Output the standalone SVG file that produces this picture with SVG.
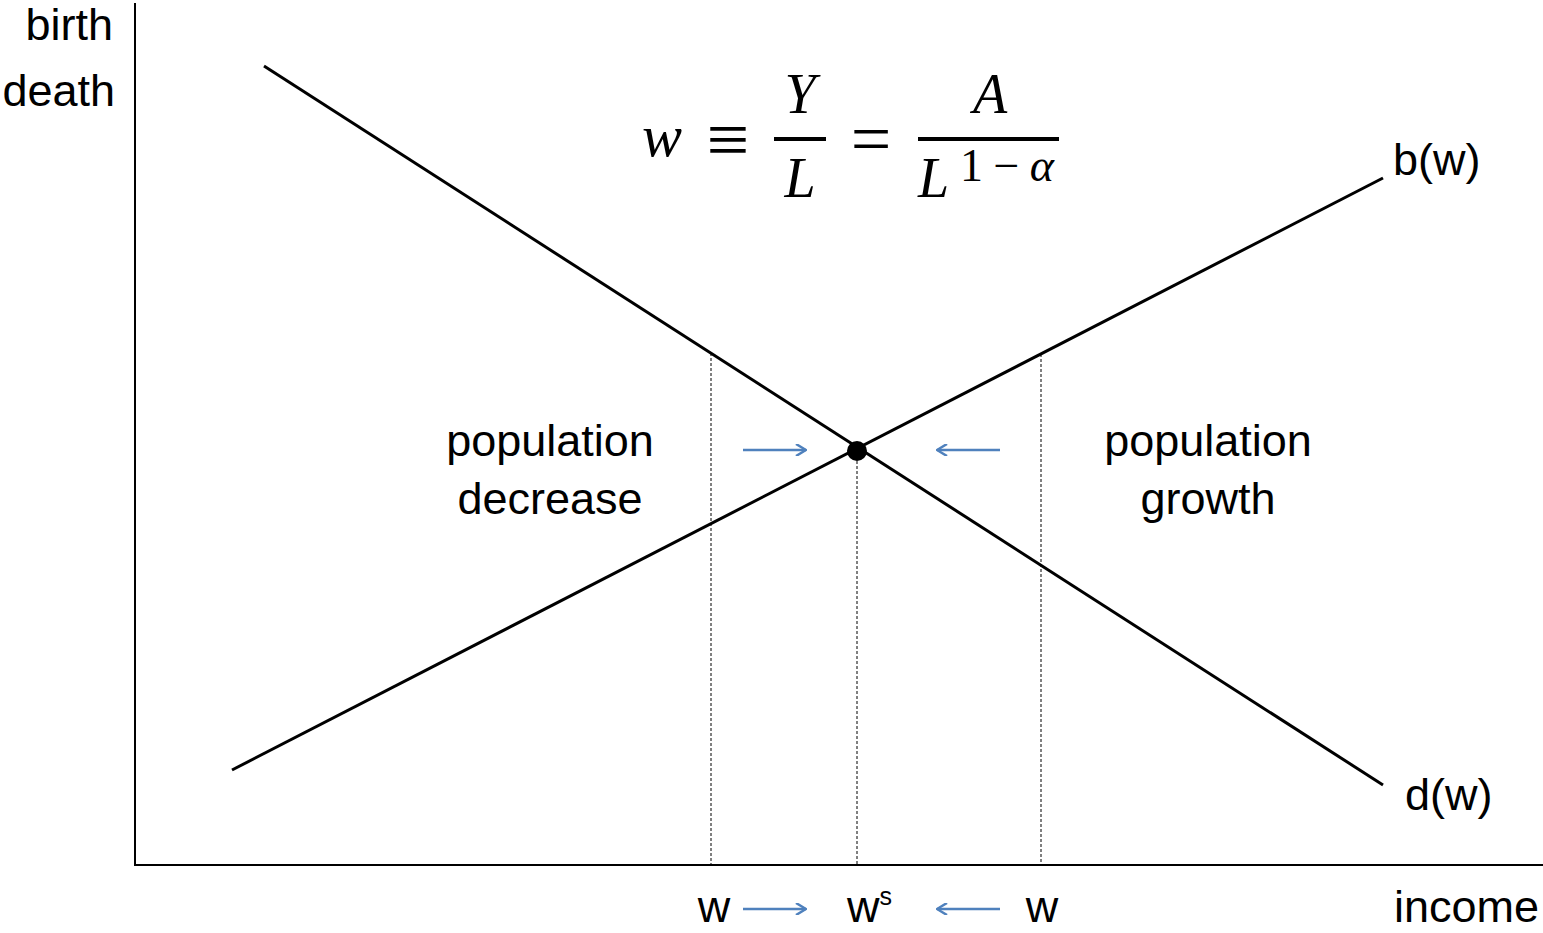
<svg xmlns="http://www.w3.org/2000/svg" width="1543" height="933" viewBox="0 0 1543 933">
<defs>
<style>
.lbl{font-family:"Liberation Sans",Arial,sans-serif;font-size:45px;fill:#000}
.math{font-family:"Liberation Serif","Times New Roman",serif;fill:#000}
.axis{stroke:#000;stroke-width:2;fill:none}
.curve{stroke:#000;stroke-width:3;fill:none}
.dash{stroke:#000;stroke-width:1;stroke-dasharray:3,2;fill:none}
.blue{stroke:#4f81bd;stroke-width:2.5;fill:none}
</style>
<marker id="ah" viewBox="0 0 12 12" refX="11" refY="6" markerWidth="12" markerHeight="12" markerUnits="userSpaceOnUse" orient="auto">
<path d="M1,0 L11,6 L1,12" stroke="#4f81bd" stroke-width="2.5" fill="none"/>
</marker>
</defs>
<rect width="1543" height="933" fill="#fff"/>
<g id="connectors">
<line class="axis" x1="135" y1="3" x2="135" y2="866"/>
<line class="axis" x1="134" y1="865" x2="1543" y2="865"/>
<line class="curve" x1="232" y1="770" x2="1383" y2="178"/>
<line class="curve" x1="264" y1="66" x2="1383" y2="785"/>
<line class="dash" x1="711" y1="353" x2="711" y2="865"/>
<line class="dash" x1="857" y1="451" x2="857" y2="865"/>
<line class="dash" x1="1041" y1="354" x2="1041" y2="865"/>
<line class="blue" x1="743" y1="450" x2="806" y2="450" marker-end="url(#ah)"/>
<line class="blue" x1="1000" y1="450" x2="937" y2="450" marker-end="url(#ah)"/>
<line class="blue" x1="743" y1="909" x2="806" y2="909" marker-end="url(#ah)"/>
<line class="blue" x1="1000" y1="909" x2="937" y2="909" marker-end="url(#ah)"/>
</g>
<g id="equilibrium"><circle cx="857" cy="451" r="10" fill="#000"/></g>
<g id="yaxis-label">
<text class="lbl" x="113" y="40" text-anchor="end">birth</text>
<text class="lbl" x="115" y="106" text-anchor="end">death</text>
</g>
<g id="xaxis-label"><text class="lbl" x="1539" y="922" text-anchor="end">income</text></g>
<g id="bw"><text class="lbl" x="1393" y="175">b(w)</text></g>
<g id="dw"><text class="lbl" x="1405" y="810">d(w)</text></g>
<g id="decrease">
<text class="lbl" x="550" y="456" text-anchor="middle">population</text>
<text class="lbl" x="550" y="514" text-anchor="middle">decrease</text>
</g>
<g id="growth">
<text class="lbl" x="1208" y="456" text-anchor="middle">population</text>
<text class="lbl" x="1208" y="514" text-anchor="middle">growth</text>
</g>
<g id="ticks">
<text class="lbl" x="714" y="922" text-anchor="middle">w</text>
<text class="lbl" x="847" y="922">w<tspan font-size="25" dy="-17">s</tspan></text>
<text class="lbl" x="1042" y="922" text-anchor="middle">w</text>
</g>
<g id="formula">
<text class="math" x="642" y="156" font-size="60" font-style="italic">w</text>
<text class="math" x="728" y="165" font-size="76" text-anchor="middle">≡</text>
<text class="math" x="800" y="113" font-size="56" font-style="italic" text-anchor="middle">Y</text>
<line x1="774" y1="139" x2="826" y2="139" stroke="#000" stroke-width="4"/>
<text class="math" x="800" y="197" font-size="56" font-style="italic" text-anchor="middle">L</text>
<text class="math" x="871" y="163" font-size="72" text-anchor="middle">=</text>
<text class="math" x="990" y="113" font-size="56" font-style="italic" text-anchor="middle">A</text>
<line x1="918" y1="139" x2="1059" y2="139" stroke="#000" stroke-width="4"/>
<text class="math" x="918" y="197" font-size="56" font-style="italic">L</text>
<text class="math" x="960" y="181" font-size="46" textLength="94" lengthAdjust="spacing">1−<tspan font-style="italic">α</tspan></text>
</g>
</svg>
